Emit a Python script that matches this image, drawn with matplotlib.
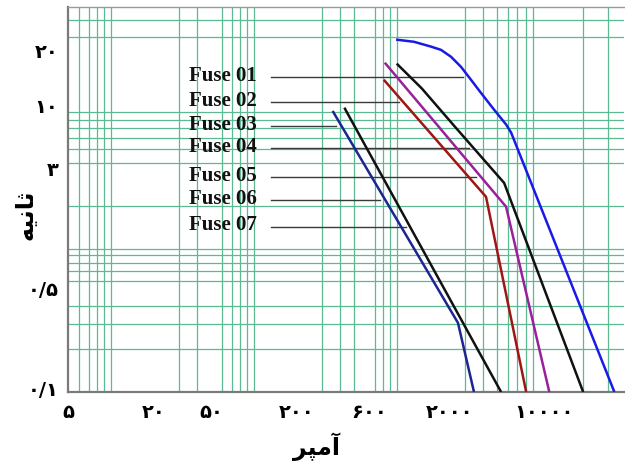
import numpy as np
import matplotlib.pyplot as plt
from matplotlib.ticker import LogLocator, NullFormatter
from matplotlib.transforms import ScaledTranslation

# fuse curves: current (A) vs time (s)
fuse_a_blue = [990, 1320, 1740, 2040, 2400, 2820, 3310, 3890, 4800, 5830, 6320, 33400]
fuse_t_blue = [29, 28, 25.9, 24.6, 22, 18.7, 15.2, 12.3, 9.4, 7.4, 6.5, 0.1]
fuse_a_black1 = [1000, 1500, 2600, 5650, 20200]
fuse_t_black1 = [19.7, 13.2, 7.0, 2.89, 0.1]
fuse_a_purple = [825, 5830, 11700]
fuse_t_purple = [20.0, 1.97, 0.1]
fuse_a_red = [812, 4220, 8060]
fuse_t_red = [15.2, 2.31, 0.1]
fuse_a_black2 = [430, 5380]
fuse_t_black2 = [9.7, 0.1]
fuse_a_navy = [356, 2685, 3475]
fuse_t_navy = [9.2, 0.304, 0.1]

# labels with leader lines
fuse_names = ['Fuse 01', 'Fuse 02', 'Fuse 03', 'Fuse 04', 'Fuse 05', 'Fuse 06', 'Fuse 07']
leader_t = [15.95, 10.67, 7.25, 5.09, 3.19, 2.20, 1.43]
leader_end_a = [2910, 1035, 374, 3206, 3590, 760, 1159]

# ticks (Persian digits)
x_ticks = [5, 20, 50, 200, 600, 2000, 10000]
x_labels = ['۵', '۲۰', '۵۰', '۲۰۰', '۶۰۰', '۲۰۰۰', '۱۰۰۰۰']
y_ticks = [0.1, 0.5, 3, 10, 20]
y_labels = ['۰/۱', '۰/۵', '۳', '۱۰', '۲۰']

# shaped Persian text (visual order, presentation forms)
xlabel_txt = '\uFEAE\uFB59\uFEE3\uFE81'   # آمپر
ylabel_txt = '\uFEEA\uFEF4\uFEE7\uFE8E\uFE9B'  # ثانیه

fig = plt.figure(figsize=(6.25, 4.63), dpi=100)
ax = fig.add_axes([68 / 625, 71 / 463, 556 / 625, 385 / 463])

curves = [
    (fuse_a_blue, fuse_t_blue, '#1a1ae6'),
    (fuse_a_black1, fuse_t_black1, '#111111'),
    (fuse_a_purple, fuse_t_purple, '#9a1f9a'),
    (fuse_a_red, fuse_t_red, '#a01515'),
    (fuse_a_black2, fuse_t_black2, '#111111'),
    (fuse_a_navy, fuse_t_navy, '#1c2590'),
]
for a, t, c in curves:
    ax.plot(a, t, color=c, lw=1.8, solid_capstyle='butt', zorder=3)

ax.set_xscale('log')
ax.set_yscale('log')
ax.set_xlim(5, 39000)
ax.set_ylim(0.1, 49)

for axis in (ax.xaxis, ax.yaxis):
    axis.set_minor_locator(LogLocator(base=10, subs=np.arange(1, 10), numticks=100))
    axis.set_minor_formatter(NullFormatter())
ax.grid(True, which='minor', color='#5cba92', lw=0.9)
ax.grid(False, which='major')

ax.set_xticks(x_ticks, x_labels)
ax.set_yticks(y_ticks, y_labels)
ax.tick_params(which='both', length=0)
ax.tick_params(axis='x', pad=8)
ax.tick_params(axis='y', pad=7)
for lab in ax.get_xticklabels() + ax.get_yticklabels():
    lab.set_family('DejaVu Sans')
    lab.set_fontweight('bold')
    lab.set_fontsize(14)

# nudge labels to where the original places them (pixels)
x_nudge = [0, 0, 0, 0, 4, 10, 4]
y_nudge = [4, 3, 12, 0, 12]
for lab, d in zip(ax.get_xticklabels(), x_nudge):
    lab.set_transform(lab.get_transform() + ScaledTranslation(d / 100, 0, fig.dpi_scale_trans))
for lab, d in zip(ax.get_yticklabels(), y_nudge):
    lab.set_transform(lab.get_transform() + ScaledTranslation(0, d / 100, fig.dpi_scale_trans))

for side in ('left', 'bottom'):
    ax.spines[side].set_color('#7a7a7a')
    ax.spines[side].set_linewidth(1.6)
ax.spines['top'].set_color('#9a9a9a')
ax.spines['top'].set_linewidth(1.0)
ax.spines['right'].set_visible(False)

for name, t, a_end in zip(fuse_names, leader_t, leader_end_a):
    ax.text(35, t * 1.02, name, family='Liberation Serif', fontweight='bold',
            fontsize=15, va='center', ha='left', color='#111111', zorder=4)
    ax.plot([132, a_end], [t, t], color='#3a3a3a', lw=1.0, zorder=2)

ax.set_xlabel(xlabel_txt, family='DejaVu Sans', fontweight='bold', fontsize=17, va='top')
ax.xaxis.set_label_coords(0.446, -0.105)
ax.set_ylabel(ylabel_txt, family='DejaVu Sans', fontweight='bold', fontsize=17)
ax.yaxis.set_label_coords(-0.054, 0.46)

fig.savefig('out.png', dpi=100)
